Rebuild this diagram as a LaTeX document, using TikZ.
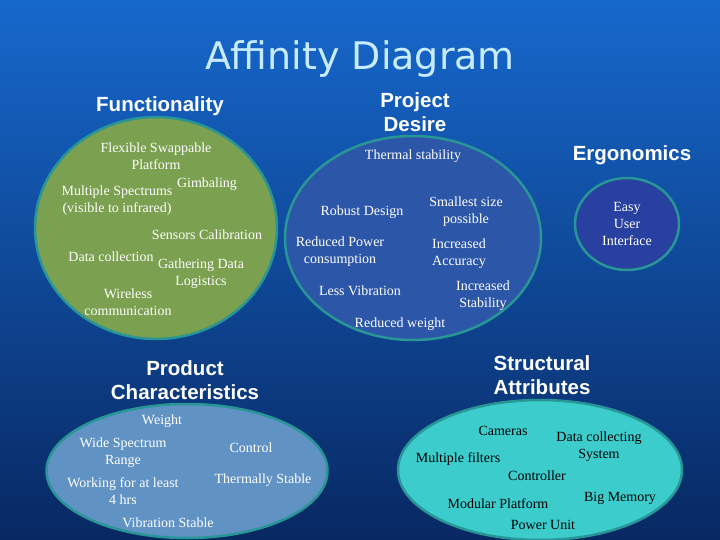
\documentclass[tikz,border=0pt]{standalone}
\usepackage{fontspec}
\setmainfont{Liberation Serif}
\newfontfamily\headfont{Liberation Sans}
\newfontfamily\titlefont{DejaVu Sans}
\usepackage{tikz}
\usetikzlibrary{shapes.geometric}
\definecolor{bgtop}{RGB}{22,104,204}
\definecolor{bgbot}{RGB}{8,40,98}
\definecolor{rim}{RGB}{40,150,150}
\definecolor{olive}{RGB}{122,160,80}
\definecolor{desire}{RGB}{44,86,168}
\definecolor{ergo}{RGB}{40,64,160}
\definecolor{steel}{RGB}{96,146,196}
\definecolor{aqua}{RGB}{60,204,204}
\definecolor{titlecol}{RGB}{200,236,255}

\begin{document}
\begin{tikzpicture}[x=1pt,y=-1pt,inner sep=0pt,
	group/.style={ellipse,draw=rim,line width=2.5pt},
	head/.style={text=white,font=\headfont\bfseries\fontsize{20.5}{24}\selectfont,align=center},
	item/.style={text=white,font=\fontsize{14}{17}\selectfont,align=center},
	darkitem/.style={item,text=black}]
	
	\shade[top color=bgtop,bottom color=bgbot] (0,0) rectangle (720,540);
	\useasboundingbox (0,0) rectangle (720,540);
	
	\node at (360,59) [text=titlecol,font=\titlefont\fontsize{38}{44}\selectfont] (title) {Affinity Diagram};
	
	% groups
	\node at (156,228) [group,fill=olive,minimum width=242,minimum height=222] (func) {};
	\node at (413,238) [group,fill=desire,minimum width=256,minimum height=204] (desire) {};
	\node at (627,224) [group,fill=ergo,minimum width=104,minimum height=92] (ergo) {};
	\node at (187,471) [group,fill=steel,minimum width=281,minimum height=134] (prod) {};
	\node at (540,470) [group,fill=aqua,minimum width=284,minimum height=140] (struct) {};
	
	% headings
	\node at (160,106) [head] (hfunc) {Functionality};
	\node at (415,112) [head] (hdesire) {Project\\Desire};
	\node at (632,155) [head] (hergo) {Ergonomics};
	\node at (185,380) [head] (hprod) {Product\\Characteristics};
	\node at (542,375) [head] (hstruct) {Structural\\Attributes};
	
	% functionality
	\node at (156,156) [item] (f1) {Flexible Swappable\\Platform};
	\node at (207,184) [item] (f2) {Gimbaling};
	\node at (117,201) [item] (f3) {Multiple Spectrums\\(visible to infrared)};
	\node at (207,235) [item] (f4) {Sensors Calibration};
	\node at (111,257) [item] (f5) {Data collection};
	\node at (201,274) [item] (f6) {Gathering Data\\Logistics};
	\node at (128,302) [item] (f7) {Wireless\\communication};
	
	% project desire
	\node at (413,156) [item] (d1) {Thermal stability};
	\node at (362,212) [item] (d2) {Robust Design};
	\node at (466,212) [item] (d3) {Smallest size\\possible};
	\node at (340,252) [item] (d4) {Reduced Power\\consumption};
	\node at (459,254) [item] (d5) {Increased\\Accuracy};
	\node at (360,291) [item] (d6) {Less Vibration};
	\node at (483,296) [item] (d7) {Increased\\Stability};
	\node at (400,324) [item] (d8) {Reduced weight};
	
	% ergonomics
	\node at (627,224) [item] (e1) {Easy\\User\\Interface};
	
	% product characteristics
	\node at (162,421) [item] (p1) {Weight};
	\node at (123,453) [item] (p2) {Wide Spectrum\\Range};
	\node at (251,448) [item] (p3) {Control};
	\node at (123,491) [item] (p4) {Working for at least\\4 hrs};
	\node at (263,480) [item] (p5) {Thermally Stable};
	\node at (168,523) [item] (p6) {Vibration Stable};
	
	% structural attributes
	\node at (503,431) [darkitem] (s1) {Cameras};
	\node at (599,447) [darkitem] (s2) {Data collecting\\System};
	\node at (458,459) [darkitem] (s3) {Multiple filters};
	\node at (537,476) [darkitem] (s4) {Controller};
	\node at (620,498) [darkitem] (s5) {Big Memory};
	\node at (498,504) [darkitem] (s6) {Modular Platform};
	\node at (543,525) [darkitem] (s7) {Power Unit};
	
\end{tikzpicture}
\end{document}
